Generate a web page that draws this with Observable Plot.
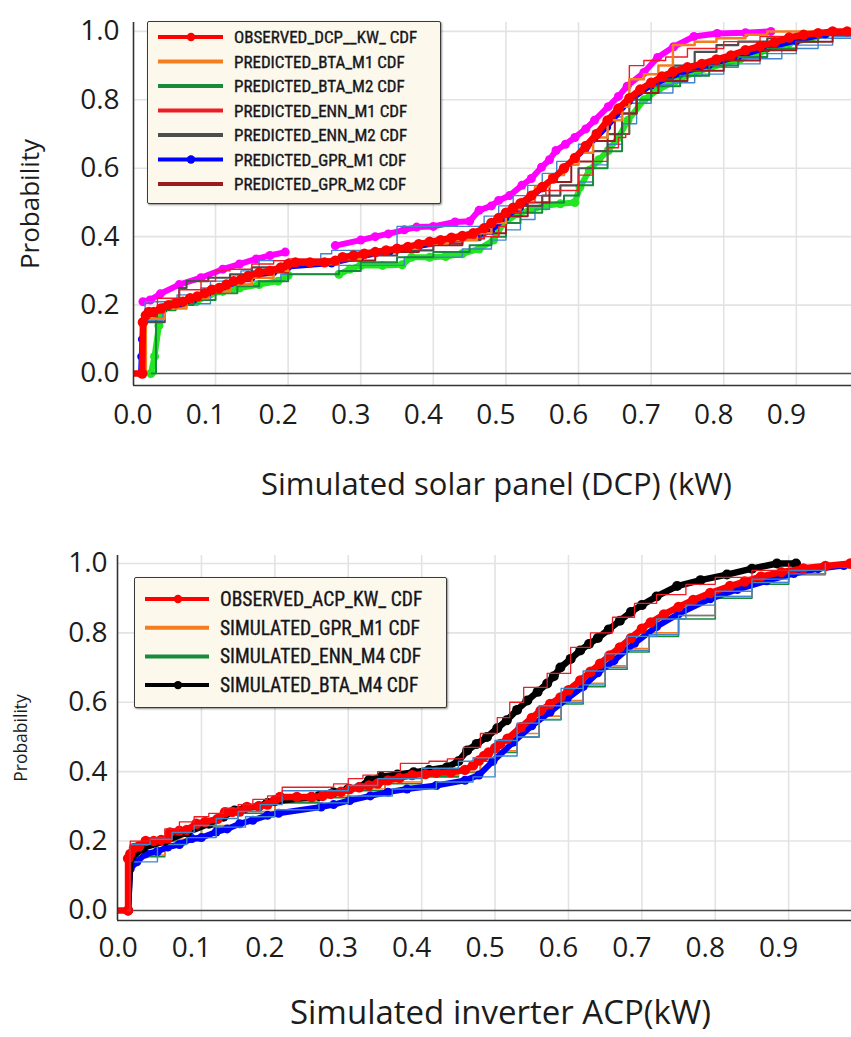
<!DOCTYPE html>
<html>
<head>
<meta charset="utf-8">
<script src="https://cdn.jsdelivr.net/npm/d3@7"></script>
<script src="https://cdn.jsdelivr.net/npm/@observablehq/plot@0.6"></script>
<style>
  html, body { margin: 0; padding: 0; background: #fff; }
  body { width: 851px; height: 1037px; overflow: hidden; position: relative; font-family: "Open Sans", sans-serif; }
  .chart { position: absolute; left: 0; }
  .legend { position: absolute; background: #fcf9ec; border: 1.5px solid #3a3a3a; border-radius: 2px;
            box-shadow: 1px 1px 2px rgba(0,0,0,0.45); box-sizing: border-box; }
  .legend svg { display: block; overflow: visible; }
</style>
</head>
<body>
<div id="top" class="chart" style="top:0px"></div>
<div id="bottom" class="chart" style="top:520px"></div>
<script>
// ---------------- tick labels ----------------
const kwTicks = [0, 0.1, 0.2, 0.3, 0.4, 0.5, 0.6, 0.7, 0.8, 0.9];
const probTicks = [0, 0.2, 0.4, 0.6, 0.8, 1.0];

// ---------------- top chart: DC power (solar panel) ----------------
const dcpObservedX = [-0.012, -0.001, 0.0, 0.004, 0.008, 0.015, 0.025, 0.035, 0.045, 0.055, 0.065, 0.075, 0.085, 0.095, 0.105, 0.115, 0.125, 0.135, 0.145, 0.16, 0.175, 0.19, 0.2, 0.21, 0.23, 0.25, 0.265, 0.275, 0.29, 0.305, 0.32, 0.335, 0.35, 0.365, 0.38, 0.395, 0.41, 0.425, 0.44, 0.455, 0.47, 0.48, 0.49, 0.5, 0.51, 0.52, 0.535, 0.55, 0.565, 0.58, 0.595, 0.61, 0.625, 0.64, 0.655, 0.67, 0.685, 0.7, 0.715, 0.73, 0.75, 0.77, 0.79, 0.81, 0.83, 0.85, 0.87, 0.89, 0.91, 0.93, 0.95, 0.97, 0.99];
const dcpObservedY = [0, 0, 0.15, 0.17, 0.18, 0.18, 0.19, 0.2, 0.205, 0.21, 0.22, 0.225, 0.235, 0.245, 0.25, 0.26, 0.27, 0.275, 0.285, 0.295, 0.3, 0.31, 0.32, 0.325, 0.325, 0.325, 0.33, 0.34, 0.345, 0.35, 0.355, 0.36, 0.365, 0.37, 0.378, 0.385, 0.39, 0.397, 0.402, 0.41, 0.425, 0.44, 0.455, 0.47, 0.485, 0.497, 0.52, 0.545, 0.57, 0.6, 0.63, 0.665, 0.7, 0.74, 0.775, 0.805, 0.83, 0.85, 0.868, 0.882, 0.895, 0.905, 0.918, 0.93, 0.945, 0.957, 0.968, 0.982, 0.99, 0.995, 1.0, 1.0, 1.0];

const dcpBtaM1X = [0.0, 0.004, 0.03, 0.06, 0.09, 0.12, 0.15, 0.18, 0.2, 0.27, 0.3, 0.34, 0.38, 0.42, 0.46, 0.48, 0.5, 0.52, 0.54, 0.56, 0.58, 0.6, 0.62, 0.64, 0.66, 0.67, 0.69, 0.71, 0.73, 0.76, 0.79, 0.83, 0.86, 0.99];
const dcpBtaM1Y = [0, 0.16, 0.19, 0.22, 0.24, 0.26, 0.28, 0.3, 0.32, 0.335, 0.355, 0.365, 0.38, 0.39, 0.41, 0.44, 0.48, 0.51, 0.545, 0.58, 0.61, 0.645, 0.69, 0.74, 0.78, 0.86, 0.875, 0.9, 0.96, 0.97, 0.98, 0.99, 1.0, 1.0];

const dcpBtaM2X = [0.012, 0.018, 0.045, 0.07, 0.1, 0.13, 0.16, 0.2, 0.27, 0.3, 0.35, 0.4, 0.45, 0.48, 0.5, 0.52, 0.55, 0.58, 0.6, 0.62, 0.64, 0.66, 0.67, 0.7, 0.74, 0.78, 0.82, 0.86, 0.9, 0.93, 0.99];
const dcpBtaM2Y = [0, 0.185, 0.2, 0.215, 0.235, 0.255, 0.27, 0.29, 0.3, 0.325, 0.34, 0.355, 0.375, 0.4, 0.44, 0.47, 0.5, 0.52, 0.55, 0.6, 0.65, 0.7, 0.8, 0.84, 0.87, 0.9, 0.925, 0.95, 0.97, 0.99, 1.0];

const dcpEnnM1X = [0.0, 0.004, 0.02, 0.05, 0.08, 0.1, 0.12, 0.15, 0.18, 0.2, 0.28, 0.3, 0.33, 0.36, 0.4, 0.44, 0.47, 0.49, 0.5, 0.52, 0.54, 0.555, 0.595, 0.6, 0.62, 0.64, 0.655, 0.665, 0.67, 0.69, 0.72, 0.75, 0.8, 0.85, 0.9, 0.95];
const dcpEnnM1Y = [0, 0.16, 0.22, 0.245, 0.27, 0.3, 0.305, 0.32, 0.33, 0.335, 0.34, 0.35, 0.365, 0.375, 0.385, 0.395, 0.4, 0.43, 0.47, 0.5, 0.52, 0.535, 0.535, 0.58, 0.62, 0.66, 0.69, 0.7, 0.9, 0.915, 0.925, 0.95, 0.97, 0.985, 0.99, 1.0];

const dcpEnnM2X = [0.0, 0.004, 0.03, 0.05, 0.06, 0.09, 0.12, 0.15, 0.2, 0.27, 0.3, 0.35, 0.4, 0.44, 0.465, 0.48, 0.5, 0.52, 0.55, 0.575, 0.6, 0.62, 0.64, 0.66, 0.68, 0.7, 0.73, 0.76, 0.79, 0.82, 0.86, 0.9, 0.95];
const dcpEnnM2Y = [0, 0.15, 0.2, 0.25, 0.27, 0.28, 0.29, 0.31, 0.32, 0.33, 0.345, 0.36, 0.38, 0.39, 0.43, 0.44, 0.47, 0.49, 0.52, 0.55, 0.6, 0.65, 0.7, 0.76, 0.82, 0.86, 0.9, 0.94, 0.96, 0.97, 0.98, 0.99, 1.0];

const dcpGprM1X = [-0.004, -0.003, -0.002, 0.0, 0.004, 0.015, 0.03, 0.05, 0.07, 0.09, 0.11, 0.13, 0.15, 0.18, 0.2, 0.26, 0.3, 0.34, 0.38, 0.42, 0.46, 0.48, 0.5, 0.52, 0.55, 0.58, 0.61, 0.64, 0.67, 0.7, 0.74, 0.78, 0.82, 0.86, 0.9, 0.94, 0.98];
const dcpGprM1Y = [0, 0.05, 0.1, 0.145, 0.165, 0.175, 0.19, 0.2, 0.215, 0.235, 0.25, 0.265, 0.28, 0.295, 0.31, 0.32, 0.34, 0.355, 0.37, 0.385, 0.4, 0.415, 0.455, 0.485, 0.54, 0.6, 0.655, 0.72, 0.795, 0.84, 0.875, 0.9, 0.925, 0.95, 0.97, 0.99, 1.0];

const dcpGprM2X = [0.0, 0.004, 0.03, 0.06, 0.09, 0.12, 0.15, 0.2, 0.27, 0.32, 0.38, 0.44, 0.47, 0.5, 0.53, 0.56, 0.59, 0.62, 0.65, 0.68, 0.71, 0.75, 0.8, 0.85, 0.9, 0.95, 0.99];
const dcpGprM2Y = [0, 0.16, 0.2, 0.225, 0.25, 0.27, 0.295, 0.32, 0.33, 0.355, 0.375, 0.395, 0.41, 0.46, 0.5, 0.56, 0.62, 0.68, 0.76, 0.82, 0.855, 0.885, 0.915, 0.945, 0.97, 0.99, 1.0];

// unlabelled curves visible in the plot
const dcpMagentaX = [0.0, 0.01, 0.024, 0.05, 0.08, 0.11, 0.133, 0.156, 0.175, 0.196, 0.23, 0.265, 0.3, 0.32, 0.338, 0.36, 0.377, 0.4, 0.43, 0.45, 0.463, 0.48, 0.49, 0.505, 0.522, 0.535, 0.549, 0.56, 0.569, 0.582, 0.595, 0.61, 0.622, 0.641, 0.655, 0.667, 0.69, 0.709, 0.731, 0.759, 0.791, 0.83, 0.865];
const dcpMagentaY = [0.21, 0.215, 0.233, 0.26, 0.28, 0.305, 0.32, 0.335, 0.345, 0.355, null, 0.374, 0.39, 0.4, 0.408, 0.42, 0.428, 0.43, 0.443, 0.445, 0.477, 0.49, 0.506, 0.52, 0.55, 0.57, 0.603, 0.625, 0.652, 0.67, 0.69, 0.715, 0.74, 0.78, 0.81, 0.84, 0.88, 0.924, 0.955, 0.985, 0.994, 0.996, 1.0];

const dcpLimeX = [0.011, 0.016, 0.022, 0.027, 0.04, 0.055, 0.074, 0.093, 0.11, 0.133, 0.16, 0.186, 0.2, 0.235, 0.27, 0.285, 0.3, 0.33, 0.357, 0.37, 0.395, 0.417, 0.44, 0.463, 0.483, 0.496, 0.516, 0.536, 0.555, 0.575, 0.595, 0.602, 0.615, 0.628, 0.641, 0.655, 0.668, 0.69, 0.71, 0.733, 0.76, 0.8, 0.823, 0.85, 0.869, 0.89, 0.92, 0.94];
const dcpLimeY = [0, 0.05, 0.14, 0.184, 0.204, 0.205, 0.21, 0.233, 0.24, 0.25, 0.26, 0.27, 0.287, null, 0.29, 0.305, 0.316, 0.316, 0.318, 0.34, 0.34, 0.342, 0.35, 0.364, 0.39, 0.438, 0.467, 0.48, 0.49, 0.496, 0.5, 0.545, 0.594, 0.625, 0.652, 0.69, 0.74, 0.8, 0.83, 0.855, 0.88, 0.905, 0.92, 0.94, 0.955, 0.965, 0.98, 0.99];

const dcpSteelUpperX = [0.0, 0.003, 0.047, 0.08, 0.11, 0.135, 0.16, 0.245, 0.26, 0.35, 0.47, 0.49, 0.51, 0.53, 0.55, 0.57, 0.6, 0.62, 0.64, 0.66, 0.68, 0.7, 0.73, 0.77, 0.82, 0.88, 0.93, 0.99];
const dcpSteelUpperY = [0, 0.21, 0.23, 0.25, 0.27, 0.3, 0.33, 0.35, 0.36, 0.43, 0.46, 0.49, 0.52, 0.55, 0.585, 0.62, 0.67, 0.71, 0.75, 0.79, 0.82, 0.845, 0.87, 0.895, 0.92, 0.95, 0.98, 1.0];

const dcpSteelLowerX = [0.0, 0.002, 0.027, 0.093, 0.19, 0.27, 0.36, 0.44, 0.48, 0.5, 0.52, 0.54, 0.56, 0.58, 0.6, 0.62, 0.64, 0.66, 0.68, 0.7, 0.73, 0.76, 0.8, 0.85, 0.9, 0.95, 0.99];
const dcpSteelLowerY = [0, 0.155, 0.204, 0.27, 0.29, 0.316, 0.34, 0.364, 0.39, 0.42, 0.45, 0.48, 0.5, 0.52, 0.56, 0.61, 0.67, 0.73, 0.79, 0.82, 0.85, 0.875, 0.905, 0.935, 0.96, 0.985, 1.0];

// ---------------- bottom chart: AC power (inverter) ----------------
const acpObservedX = [-0.013, 0.0, 0.0, 0.003, 0.008, 0.015, 0.024, 0.035, 0.045, 0.054, 0.057, 0.07, 0.08, 0.093, 0.105, 0.122, 0.132, 0.142, 0.152, 0.162, 0.178, 0.19, 0.2, 0.207, 0.23, 0.25, 0.265, 0.276, 0.29, 0.302, 0.315, 0.328, 0.34, 0.354, 0.37, 0.387, 0.405, 0.42, 0.44, 0.459, 0.47, 0.478, 0.485, 0.491, 0.5, 0.507, 0.517, 0.535, 0.55, 0.562, 0.575, 0.589, 0.6, 0.616, 0.63, 0.643, 0.656, 0.67, 0.685, 0.7, 0.712, 0.73, 0.75, 0.77, 0.793, 0.82, 0.84, 0.862, 0.89, 0.92, 0.95, 0.984, 0.99];
const acpObservedY = [0, 0, 0.15, 0.163, 0.18, 0.185, 0.2, 0.2, 0.203, 0.207, 0.225, 0.23, 0.232, 0.25, 0.255, 0.264, 0.283, 0.284, 0.285, 0.298, 0.3, 0.305, 0.318, 0.327, 0.327, 0.327, 0.33, 0.336, 0.342, 0.35, 0.355, 0.36, 0.366, 0.375, 0.382, 0.39, 0.393, 0.397, 0.398, 0.405, 0.418, 0.432, 0.445, 0.455, 0.468, 0.48, 0.495, 0.528, 0.555, 0.576, 0.595, 0.614, 0.635, 0.663, 0.688, 0.711, 0.735, 0.758, 0.785, 0.812, 0.83, 0.853, 0.875, 0.895, 0.915, 0.935, 0.948, 0.962, 0.975, 0.986, 0.993, 1.0, 1.0];

const acpGprM1X = [0.0, 0.003, 0.05, 0.1, 0.15, 0.2, 0.26, 0.3, 0.35, 0.4, 0.45, 0.48, 0.5, 0.53, 0.56, 0.59, 0.62, 0.65, 0.68, 0.71, 0.75, 0.8, 0.85, 0.9, 0.95, 0.99];
const acpGprM1Y = [0, 0.16, 0.205, 0.245, 0.285, 0.315, 0.33, 0.35, 0.37, 0.39, 0.4, 0.435, 0.46, 0.51, 0.56, 0.605, 0.655, 0.705, 0.755, 0.8, 0.85, 0.905, 0.945, 0.97, 0.99, 1.0];

const acpEnnM4X = [0.0, 0.003, 0.05, 0.1, 0.15, 0.2, 0.26, 0.3, 0.35, 0.4, 0.45, 0.48, 0.5, 0.53, 0.56, 0.59, 0.62, 0.65, 0.68, 0.71, 0.75, 0.8, 0.85, 0.9, 0.95, 0.99];
const acpEnnM4Y = [0, 0.155, 0.2, 0.24, 0.28, 0.31, 0.325, 0.345, 0.365, 0.385, 0.398, 0.43, 0.455, 0.5, 0.55, 0.595, 0.645, 0.695, 0.745, 0.79, 0.84, 0.9, 0.94, 0.968, 0.988, 1.0];

const acpBtaM4X = [0.0, 0.003, 0.02, 0.05, 0.08, 0.11, 0.13, 0.145, 0.16, 0.178, 0.19, 0.2, 0.25, 0.26, 0.28, 0.3, 0.315, 0.328, 0.345, 0.367, 0.389, 0.41, 0.435, 0.45, 0.462, 0.475, 0.489, 0.503, 0.516, 0.53, 0.544, 0.558, 0.571, 0.58, 0.589, 0.603, 0.616, 0.628, 0.64, 0.655, 0.67, 0.685, 0.7, 0.72, 0.748, 0.78, 0.816, 0.85, 0.884, 0.91];
const acpBtaM4Y = [0, 0.15, 0.18, 0.2, 0.225, 0.25, 0.27, 0.288, 0.295, 0.3, 0.31, 0.315, 0.327, 0.33, 0.34, 0.35, 0.355, 0.375, 0.385, 0.392, 0.398, 0.405, 0.413, 0.43, 0.461, 0.48, 0.5, 0.525, 0.548, 0.578, 0.605, 0.63, 0.654, 0.675, 0.7, 0.725, 0.749, 0.768, 0.785, 0.81, 0.835, 0.86, 0.88, 0.905, 0.935, 0.952, 0.968, 0.985, 1.0, 1.0];

// unlabelled curves visible in the plot
const acpBlueX = [0.0, 0.003, 0.012, 0.024, 0.04, 0.054, 0.07, 0.087, 0.1, 0.12, 0.135, 0.152, 0.17, 0.19, 0.205, 0.263, 0.28, 0.302, 0.33, 0.354, 0.38, 0.42, 0.459, 0.478, 0.497, 0.525, 0.55, 0.575, 0.598, 0.62, 0.64, 0.662, 0.69, 0.72, 0.75, 0.793, 0.83, 0.87, 0.907, 0.94, 0.975, 0.99];
const acpBlueY = [0.0, 0.12, 0.14, 0.163, 0.17, 0.183, 0.19, 0.207, 0.21, 0.226, 0.235, 0.25, 0.26, 0.274, 0.28, 0.298, 0.305, 0.317, 0.33, 0.341, 0.35, 0.36, 0.375, 0.39, 0.43, 0.485, 0.532, 0.572, 0.61, 0.645, 0.685, 0.72, 0.77, 0.818, 0.855, 0.898, 0.925, 0.95, 0.971, 0.985, 0.994, 1.0];

const acpThinRedX = [0.0, 0.003, 0.03, 0.05, 0.07, 0.09, 0.11, 0.13, 0.15, 0.17, 0.19, 0.21, 0.28, 0.3, 0.32, 0.34, 0.371, 0.41, 0.435, 0.457, 0.48, 0.503, 0.52, 0.539, 0.571, 0.603, 0.63, 0.66, 0.69, 0.72, 0.76, 0.8, 0.85, 0.9];
const acpThinRedY = [0, 0.2, 0.21, 0.235, 0.255, 0.27, 0.28, 0.295, 0.305, 0.32, 0.33, 0.355, 0.365, 0.38, 0.39, 0.4, 0.424, 0.43, 0.437, 0.47, 0.51, 0.556, 0.6, 0.643, 0.683, 0.758, 0.8, 0.845, 0.885, 0.91, 0.94, 0.96, 0.98, 1.0];

const acpSteelUpperX = [0.0, 0.003, 0.03, 0.06, 0.09, 0.12, 0.15, 0.18, 0.21, 0.3, 0.34, 0.4, 0.45, 0.47, 0.5, 0.53, 0.56, 0.59, 0.62, 0.65, 0.68, 0.72, 0.76, 0.8, 0.85, 0.9, 0.95];
const acpSteelUpperY = [0, 0.19, 0.205, 0.225, 0.245, 0.265, 0.285, 0.305, 0.345, 0.36, 0.38, 0.41, 0.43, 0.44, 0.49, 0.54, 0.59, 0.64, 0.69, 0.74, 0.79, 0.84, 0.88, 0.92, 0.955, 0.98, 1.0];

const acpSteelLowerX = [0.0, 0.003, 0.04, 0.08, 0.12, 0.16, 0.2, 0.26, 0.3, 0.36, 0.42, 0.47, 0.5, 0.53, 0.56, 0.59, 0.62, 0.65, 0.68, 0.71, 0.75, 0.8, 0.85, 0.9, 0.95, 0.99];
const acpSteelLowerY = [0, 0.14, 0.19, 0.21, 0.24, 0.27, 0.29, 0.31, 0.33, 0.35, 0.37, 0.385, 0.445, 0.5, 0.55, 0.6, 0.65, 0.7, 0.75, 0.795, 0.85, 0.905, 0.945, 0.97, 0.99, 1.0];

// legend labels
const dcpLegendLabels = ["OBSERVED_DCP__KW_ CDF", "PREDICTED_BTA_M1 CDF", "PREDICTED_BTA_M2 CDF", "PREDICTED_ENN_M1 CDF", "PREDICTED_ENN_M2 CDF", "PREDICTED_GPR_M1 CDF", "PREDICTED_GPR_M2 CDF"];
const acpLegendLabels = ["OBSERVED_ACP_KW_ CDF", "SIMULATED_GPR_M1 CDF", "SIMULATED_ENN_M4 CDF", "SIMULATED_BTA_M4 CDF"];

// ---------------- styles (drawing order = array order) ----------------
const RED = "#ff0000", ORANGE = "#f47d20", GREEN = "#178a3c", THINRED = "#ee1c25",
      GRAY = "#4d4d4d", BLUE = "#0000ff", DARKRED = "#9b1b1e", MAGENTA = "#ff00ff",
      LIME = "#22e622", STEEL = "#3f86cc", BLACK = "#000000";

const dcpSeries = [
  {x: dcpLimeX, y: dcpLimeY, color: LIME, width: 6, dot: 4.5, curve: "linear"},
  {x: dcpMagentaX, y: dcpMagentaY, color: MAGENTA, width: 6, dot: 4.5, curve: "linear"},
  {x: dcpSteelLowerX, y: dcpSteelLowerY, color: STEEL, width: 1.4, curve: "step-after"},
  {x: dcpSteelUpperX, y: dcpSteelUpperY, color: STEEL, width: 1.4, curve: "step-after"},
  {x: dcpGprM1X, y: dcpGprM1Y, color: BLUE, width: 4, dot: 3.5, curve: "linear"},
  {x: dcpBtaM2X, y: dcpBtaM2Y, color: GREEN, width: 2, curve: "step-after"},
  {x: dcpEnnM2X, y: dcpEnnM2Y, color: GRAY, width: 2.2, curve: "step-after"},
  {x: dcpGprM2X, y: dcpGprM2Y, color: DARKRED, width: 2, curve: "step-after"},
  {x: dcpEnnM1X, y: dcpEnnM1Y, color: THINRED, width: 1.4, curve: "step-after"},
  {x: dcpBtaM1X, y: dcpBtaM1Y, color: ORANGE, width: 2.5, curve: "step-after"},
  {x: dcpObservedX, y: dcpObservedY, color: RED, width: 6.5, dot: 5.2, curve: "linear"}
];
const acpSeries = [
  {x: acpEnnM4X, y: acpEnnM4Y, color: GREEN, width: 1.6, curve: "step-after"},
  {x: acpGprM1X, y: acpGprM1Y, color: ORANGE, width: 1.6, curve: "step-after"},
  {x: acpBlueX, y: acpBlueY, color: BLUE, width: 6, dot: 4.5, curve: "linear"},
  {x: acpSteelLowerX, y: acpSteelLowerY, color: STEEL, width: 1.4, curve: "step-after"},
  {x: acpBtaM4X, y: acpBtaM4Y, color: BLACK, width: 6.5, dot: 5, curve: "linear"},
  {x: acpObservedX, y: acpObservedY, color: RED, width: 6.5, dot: 5.2, curve: "linear"},
  {x: acpSteelUpperX, y: acpSteelUpperY, color: STEEL, width: 1.4, curve: "step-after"},
  {x: acpThinRedX, y: acpThinRedY, color: THINRED, width: 1.3, curve: "step-after"}
];

function rowsOf(s) {
  return s.x.map((x, i) => ({x, y: s.y[i] == null ? NaN : s.y[i]}));
}
function seriesMarks(list) {
  const marks = [];
  for (const s of list) {
    const data = rowsOf(s);
    marks.push(Plot.line(data, {x: "x", y: "y", stroke: s.color, strokeWidth: s.width, curve: s.curve,
                                strokeLinejoin: "round", clip: true}));
    if (s.dot) {
      marks.push(Plot.dot(data.filter(d => d.x > -0.008 && !isNaN(d.y)),
                          {x: "x", y: "y", r: s.dot, fill: s.color, clip: true}));
    }
  }
  return marks;
}

function makeChart(cfg) {
  return Plot.plot({
    width: 851, height: cfg.height,
    marginLeft: cfg.ml, marginRight: 0, marginTop: cfg.mt, marginBottom: cfg.mb,
    x: {domain: cfg.xDomain, label: null},
    y: {domain: cfg.yDomain, label: null},
    style: {fontFamily: '"Open Sans", sans-serif', color: "#1c1c1c", background: "transparent", overflow: "visible"},
    marks: [
      Plot.gridX(kwTicks.slice(1), {stroke: "#e3e3e3", strokeOpacity: 1, strokeWidth: 1.6}),
      Plot.gridY(probTicks.slice(1), {stroke: "#e3e3e3", strokeOpacity: 1, strokeWidth: 1.6}),
      Plot.ruleY([0], {stroke: "#4a4a4a", strokeWidth: 1.4}),
      ...seriesMarks(cfg.series),
      Plot.ruleX([cfg.xDomain[0]], {stroke: "#333", strokeWidth: 1.6}),
      Plot.ruleY([cfg.yDomain[0]], {stroke: "#333", strokeWidth: 1.6}),
      Plot.axisX(kwTicks, {tickSize: 0, tickPadding: cfg.xPad, dx: -10, fontSize: cfg.xFont,
                           tickFormat: d => d.toFixed(1), label: null}),
      Plot.axisY(probTicks, {tickSize: 0, tickPadding: cfg.yPad, fontSize: cfg.yFont,
                             tickFormat: d => d.toFixed(1), label: null}),
      Plot.text([cfg.xTitle], {text: d => d, frameAnchor: "bottom", dy: cfg.xTitleDy, dx: cfg.xTitleDx,
                               fontSize: cfg.xTitleFont, textAnchor: "middle", lineAnchor: "middle", fill: "#1c1c1c"}),
      Plot.text(["Probability"], {text: d => d, frameAnchor: "left", rotate: -90, dx: cfg.yTitleDx,
                                  fontSize: cfg.yTitleFont, textAnchor: "middle", lineAnchor: "middle", fill: "#1c1c1c"})
    ]
  });
}

document.getElementById("top").appendChild(makeChart({
  series: dcpSeries, height: 510, ml: 133, mt: 22, mb: 125,
  xDomain: [-0.013, 0.976], yDomain: [-0.035, 1.026],
  xPad: 19, yPad: 14, xFont: 28, yFont: 28,
  xTitle: "Simulated solar panel (DCP) (kW)", xTitleDy: 100, xTitleDx: 4, xTitleFont: 31,
  yTitleDx: -103, yTitleFont: 26
}));

document.getElementById("bottom").appendChild(makeChart({
  series: acpSeries, height: 517, ml: 117, mt: 35, mb: 117,
  xDomain: [-0.0144, 0.9856], yDomain: [-0.029, 1.023],
  xPad: 17, yPad: 10, xFont: 28, yFont: 28,
  xTitle: "Simulated inverter ACP(kW)", xTitleDy: 93, xTitleDx: 16, xTitleFont: 33,
  yTitleDx: -96, yTitleFont: 17.5
}));

// ---------------- legends ----------------
function drawLegend(cfg) {
  const div = document.createElement("div");
  div.className = "legend";
  Object.assign(div.style, {left: cfg.left + "px", top: cfg.top + "px", width: cfg.width + "px", height: cfg.height + "px"});
  const svg = d3.create("svg").attr("width", cfg.width - 3).attr("height", cfg.height - 3);
  div.appendChild(svg.node());
  document.body.appendChild(div);
  cfg.items.forEach((it, i) => {
    const y = cfg.y0 + i * cfg.dy;
    svg.append("line").attr("x1", cfg.sx0).attr("x2", cfg.sx1).attr("y1", y).attr("y2", y)
      .attr("stroke", it.color).attr("stroke-width", 4);
    if (it.marker) svg.append("circle").attr("cx", cfg.mx).attr("cy", y).attr("r", 4.2).attr("fill", it.color);
    const t = svg.append("text").attr("x", cfg.tx).attr("y", y).attr("dy", "0.36em")
      .attr("font-family", '"Liberation Sans Narrow", "Arial Narrow", "Roboto Condensed", "Liberation Sans", sans-serif')
      .attr("font-size", cfg.fontSize).attr("fill", "#15151c")
      .attr("stroke", "#15151c").attr("stroke-width", 0.35)
      .text(it.label);
    // fit the label into the width it takes in the reference legend
    const natural = t.node().getComputedTextLength();
    if (natural > it.w) t.attr("font-size", cfg.fontSize * it.w / natural);
  });
}

const dcpLegendColors = [RED, ORANGE, GREEN, THINRED, GRAY, BLUE, DARKRED];
const dcpLegendMarkers = [true, false, false, false, false, true, false];
drawLegend({
  left: 147, top: 21, width: 294, height: 183, y0: 15, dy: 24.5,
  sx0: 10, sx1: 75, mx: 43, tx: 86, fontSize: 17,
  items: dcpLegendLabels.map((label, i) => ({label, color: dcpLegendColors[i], marker: dcpLegendMarkers[i],
                                             w: i === 0 ? 194 : 180}))
});

const acpLegendColors = [RED, ORANGE, GREEN, BLACK];
const acpLegendMarkers = [true, false, false, true];
drawLegend({
  left: 134, top: 577, width: 313, height: 131, y0: 21, dy: 28.7,
  sx0: 10, sx1: 74, mx: 43, tx: 85, fontSize: 19.5,
  items: acpLegendLabels.map((label, i) => ({label, color: acpLegendColors[i], marker: acpLegendMarkers[i], w: 208}))
});
</script>
</body>
</html>
